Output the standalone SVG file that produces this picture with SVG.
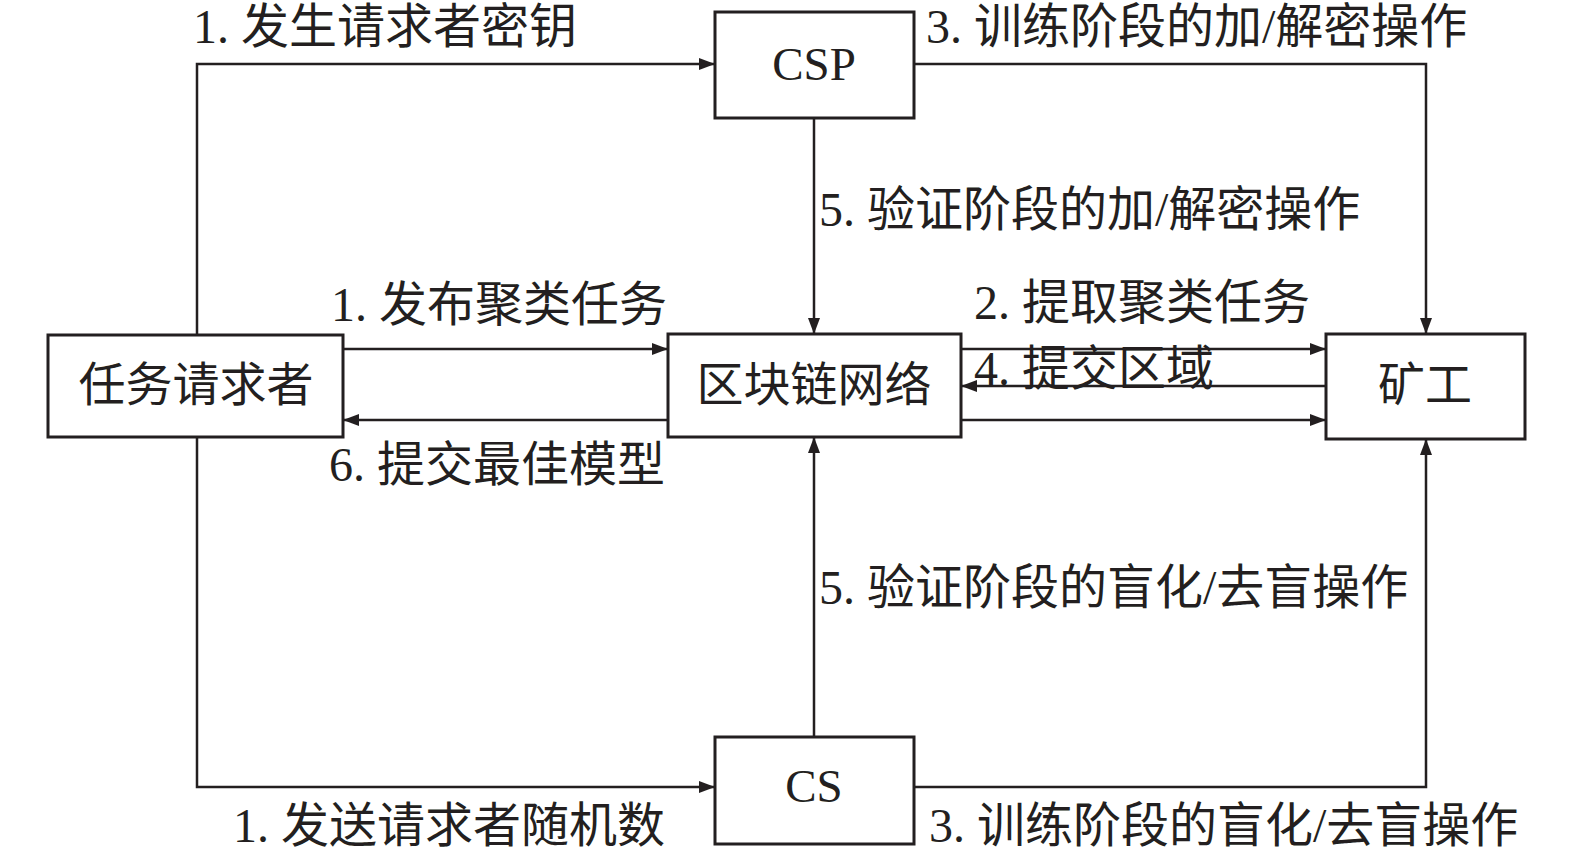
<svg xmlns="http://www.w3.org/2000/svg" width="1575" height="858" viewBox="0 0 1575 858">
<style>
.box{fill:#fff;stroke:#231f20;stroke-width:3}
.ln{fill:none;stroke:#231f20;stroke-width:2.5}
text{font-family:"Liberation Serif","Noto Sans CJK SC",serif;font-size:48px;fill:#231f20}
.c{text-anchor:middle;font-size:47px}
</style>
<defs>
<marker id="ah" viewBox="0 0 16 12" refX="16" refY="6" markerWidth="16" markerHeight="12" markerUnits="userSpaceOnUse" orient="auto">
<path d="M0,0 L16,6 L0,12 Z" fill="#231f20"/>
</marker>
</defs>
<rect width="1575" height="858" fill="#fff"/>
<g id="connectors">
<path class="ln" d="M197,335 V64 H715" marker-end="url(#ah)"/>
<path class="ln" d="M914,64 H1426 V334" marker-end="url(#ah)"/>
<path class="ln" d="M814,118 V334" marker-end="url(#ah)"/>
<path class="ln" d="M343,349 H668" marker-end="url(#ah)"/>
<path class="ln" d="M668,420 H343" marker-end="url(#ah)"/>
<path class="ln" d="M961,349 H1326" marker-end="url(#ah)"/>
<path class="ln" d="M1326,386 H961" marker-end="url(#ah)"/>
<path class="ln" d="M961,420 H1326" marker-end="url(#ah)"/>
<path class="ln" d="M814,737 V437" marker-end="url(#ah)"/>
<path class="ln" d="M197,437 V787 H715" marker-end="url(#ah)"/>
<path class="ln" d="M914,787 H1426 V439" marker-end="url(#ah)"/>
<text x="193" y="43">1. 发生请求者密钥</text>
<text x="926" y="43">3. 训练阶段的加/解密操作</text>
<text x="819" y="226">5. 验证阶段的加/解密操作</text>
<text x="331" y="321">1. 发布聚类任务</text>
<text x="974" y="319">2. 提取聚类任务</text>
<text x="974" y="385">4. 提交区域</text>
<text x="329" y="481">6. 提交最佳模型</text>
<text x="819" y="604">5. 验证阶段的盲化/去盲操作</text>
<text x="233" y="842">1. 发送请求者随机数</text>
<text x="929" y="842">3. 训练阶段的盲化/去盲操作</text>
</g>
<g id="task-requester"><rect class="box" x="48" y="335" width="295" height="102"/><text class="c" x="196" y="401">任务请求者</text></g>
<g id="blockchain"><rect class="box" x="668" y="334" width="293" height="103"/><text class="c" x="814" y="401">区块链网络</text></g>
<g id="miner"><rect class="box" x="1326" y="334" width="199" height="105"/><text class="c" x="1425" y="401">矿工</text></g>
<g id="csp"><rect class="box" x="715" y="12" width="199" height="106"/><text class="c" x="814" y="80">CSP</text></g>
<g id="cs"><rect class="box" x="715" y="737" width="199" height="107"/><text class="c" x="814" y="802">CS</text></g>
</svg>
